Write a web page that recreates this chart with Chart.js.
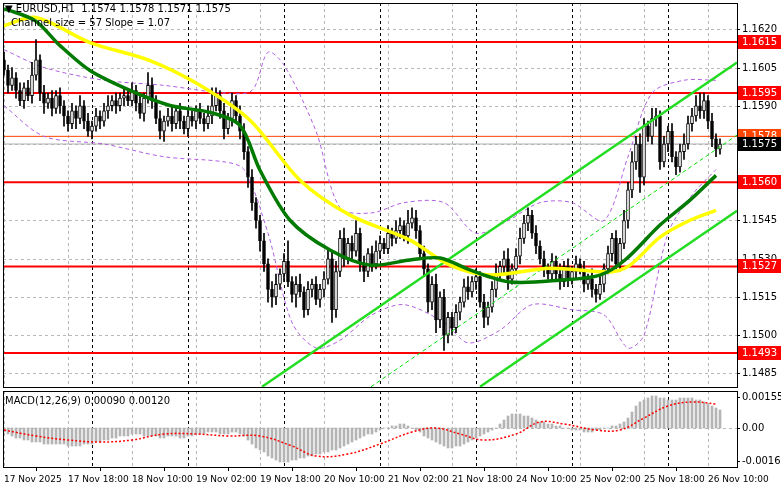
<!DOCTYPE html>
<html>
<head>
<meta charset="utf-8">
<script src="https://cdn.jsdelivr.net/npm/chart.js@4.4.1/dist/chart.umd.min.js"></script>
<style>
  body { margin: 0; background: #fff; width: 781px; height: 489px; overflow: hidden; font-family: "DejaVu Sans", sans-serif; }
  #mainBox { position: absolute; left: 0; top: 0; width: 781px; height: 389px; }
  #macdBox { position: absolute; left: 0; top: 389px; width: 781px; height: 100px; }
  .txt { position: absolute; font-size: 10px; color: #000; white-space: nowrap; }
</style>
</head>
<body>
<div id="mainBox"><canvas id="mainChart"></canvas></div>
<div id="macdBox"><canvas id="macdChart"></canvas></div>
<div class="txt" style="left:5px;top:3px;">&#9660; EURUSD,H1&nbsp; 1.1574 1.1578 1.1571 1.1575</div>
<div class="txt" style="left:11px;top:17px;">Channel size = 57 Slope = 1.07</div>
<div class="txt" style="left:5px;top:395px;">MACD(12,26,9) 0.00090 0.00120</div>
<script>
// Time labels every 16 H1 bars, starting 17 Nov 02:00
const timeLabels = ['17 Nov 2025', '17 Nov 18:00', '18 Nov 10:00', '19 Nov 02:00', '19 Nov 18:00', '20 Nov 10:00',
  '21 Nov 02:00', '21 Nov 18:00', '24 Nov 10:00', '25 Nov 02:00', '25 Nov 18:00', '26 Nov 10:00'];
const daySeparators = [22, 46, 70, 94, 118, 142, 166];
const priceTicks = [1.1485, 1.1500, 1.1515, 1.1530, 1.1545, 1.1560, 1.1575, 1.1590, 1.1605, 1.1620];
const macdTicks = [-0.00166, 0, 0.00155];

const firstOpen = 1.1608;
const closes = [
  1.1604,1.1598,1.1601,1.1596,1.1592,1.1597,1.1594,1.1602,1.1608,1.1595,1.1591,1.1593,1.1589,1.1594,1.1590,1.1586,
  1.1583,1.1588,1.1585,1.1590,1.1584,1.1580,1.1582,1.1586,1.1584,1.1588,1.1590,1.1592,1.1590,1.1593,1.1594,1.1592,
  1.1596,1.1591,1.1587,1.1593,1.1598,1.1592,1.1585,1.1580,1.1584,1.1586,1.1583,1.1588,1.1584,1.1581,1.1586,1.1584,
  1.1588,1.1585,1.1583,1.1586,1.1590,1.1594,1.1588,1.1581,1.1585,1.1592,1.1586,1.1580,1.1572,1.1562,1.1552,1.1545,
  1.1537,1.1528,1.1518,1.1515,1.1520,1.1524,1.1529,1.1521,1.1516,1.1520,1.1517,1.1510,1.1518,1.1520,1.1514,1.1518,
  1.1522,1.1530,1.1510,1.1525,1.1538,1.1530,1.1536,1.1533,1.1540,1.1528,1.1525,1.1532,1.1528,1.1533,1.1536,1.1534,
  1.1540,1.1538,1.1541,1.1543,1.1539,1.1544,1.1546,1.1541,1.1532,1.1526,1.1513,1.1520,1.1506,1.1515,1.1500,1.1507,
  1.1503,1.1509,1.1513,1.1519,1.1517,1.1521,1.1523,1.1513,1.1507,1.1511,1.1518,1.1524,1.1527,1.1530,1.1522,1.1526,
  1.1531,1.1538,1.1544,1.1547,1.1540,1.1535,1.1530,1.1526,1.1524,1.1529,1.1524,1.1521,1.1527,1.1522,1.1525,1.1528,
  1.1526,1.1520,1.1522,1.1518,1.1516,1.1520,1.1526,1.1532,1.1538,1.1528,1.1536,1.1545,1.1557,1.1568,1.1575,1.1562,
  1.1582,1.1578,1.1585,1.1586,1.1568,1.1575,1.1580,1.1570,1.1566,1.1572,1.1575,1.1583,1.1586,1.1590,1.1588,1.1592,
  1.1584,1.1577,1.1573,1.1575
];
// wick lengths above / below the body, in pips
const wickUp = [
  3,2,4,2,3,2,3,5,8,2,3,2,3,2,3,2, 2,3,2,4,2,3,2,3,2,3,4,2,3,2,3,2,
  3,2,4,2,5,3,2,3,2,3,4,2,3,2,3,2, 2,3,2,4,7,3,2,3,2,3,2,4,3,2,3,2,
  2,3,2,3,4,2,3,8,2,3,4,2,3,2,3,2, 3,4,3,4,3,4,2,3,5,2,3,2,3,4,3,2,
  3,2,4,3,2,5,4,3,2,3,2,3,4,2,3,2, 2,3,2,3,4,2,3,2,3,2,3,4,2,3,4,2,
  3,4,3,3,2,3,2,3,2,3,2,4,2,3,2,3, 2,3,2,4,2,3,2,3,2,3,2,4,3,4,3,4,
  3,2,4,3,2,3,2,3,2,3,4,3,3,4,5,3, 2,3,2,2
];
const wickDn = [
  2,3,2,3,2,3,2,3,2,3,4,2,3,2,3,4, 3,2,4,2,3,2,3,2,3,2,3,2,3,2,3,2,
  2,3,2,3,2,3,2,3,4,2,3,2,3,2,3,2, 3,2,3,2,3,2,3,4,2,3,2,3,3,4,3,3,
  4,3,5,4,3,2,3,2,3,5,2,3,2,3,2,3, 3,2,5,3,2,3,2,3,2,3,4,2,3,2,3,2,
  2,3,2,3,2,3,2,3,2,3,4,3,5,3,6,3, 3,2,3,2,3,2,3,2,4,3,2,3,2,3,4,2,
  2,3,2,3,2,3,2,3,2,3,2,3,2,3,2,3, 2,3,2,3,3,2,3,2,3,2,3,2,3,3,3,6,
  3,2,3,3,3,2,3,2,3,2,3,2,3,2,3,3, 3,3,3,2
];

// moving averages and envelope, read at selected bars
const maSlow = [[0,1.16214],[8,1.16246],[21.5,1.16148],[36.5,1.16077],[49,1.15980],[61.5,1.15843],[74,1.15608],[86.5,1.15471],
  [101.5,1.15373],[111.5,1.15275],[121.5,1.15236],[136.5,1.15263],[151.5,1.15248],[156.5,1.15275],[164,1.15385],[171.5,1.15451],[178,1.15490]];
const maFast = [[0,1.16281],[7.75,1.16234],[14,1.16136],[21.5,1.16038],[31.5,1.15960],[41.5,1.15901],[51.5,1.15874],[59,1.15823],
  [64,1.15647],[71.5,1.15451],[81.5,1.15334],[91.5,1.15275],[101.5,1.15295],[109,1.15303],[116.5,1.15256],[126.5,1.15209],
  [139,1.15216],[149,1.15236],[155.25,1.15295],[164,1.15432],[171.5,1.15530],[178,1.15627]];
const bandUpper = [[0,1.1612],[10,1.1605],[25,1.1600],[40,1.1598],[55,1.1595],[62,1.1596],[66,1.1611],[70,1.1606],[78,1.1580],
  [84,1.1550],[92,1.1548],[100,1.1552],[110,1.1552],[118,1.1540],[126,1.1545],[134,1.1552],[142,1.1552],[150,1.1545],
  [156,1.1570],[162,1.1595],[170,1.1600],[178,1.1600]];
const bandLower = [[0,1.1590],[10,1.1578],[25,1.1575],[40,1.1570],[55,1.1568],[60,1.1565],[66,1.1540],[72,1.1505],[78,1.1495],
  [84,1.1498],[92,1.1508],[100,1.1512],[110,1.1505],[116,1.1497],[124,1.1502],[132,1.1512],[142,1.1510],[150,1.1508],
  [156,1.1495],[160,1.1500],[166,1.1540],[172,1.1555],[178,1.1565]];
const channelUpper = [[64.5,1.14798],[183.25,1.16070]];
const channelLower = [[119,1.14798],[183.25,1.15488]];
const channelMid = [[91.75,1.14798],[183.25,1.15785]];

const levels = [1.1615, 1.1595, 1.1560, 1.1527, 1.1493];
const askLevel = 1.1578;
const bidLevel = 1.1575;

// MACD, in units of 0.0001
const macdHist = [
  -2,-3,-4,-5,-5,-6,-6,-7,-7,-7,-8,-8,-8,-8,-8,-8, -9,-9,-9,-9,-8,-8,-8,-7,-7,-6,-6,-5,-5,-4,-4,-4,
  -3,-3,-3,-4,-4,-4,-4,-5,-5,-4,-4,-4,-5,-5,-4,-4, -3,-3,-3,-2,-2,-2,-3,-3,-3,-2,-2,-3,-4,-6,-8,-10,
  -11,-12,-14,-15,-16,-17,-17,-17,-16,-16,-15,-15,-14,-14,-13,-13, -12,-12,-11,-11,-10,-9,-8,-7,-6,-5,-4,-3,-3,-2,-1,0,
  0,1,1,2,2,1,0,-1,-2,-4,-5,-6,-7,-8,-9,-10, -10,-9,-9,-8,-7,-6,-5,-4,-3,-2,-1,0,2,4,6,7,
  7,7,6,6,5,4,3,3,2,2,1,1,0,0,-1,-1, -1,-2,-2,-2,-1,-1,0,0,1,1,2,3,5,8,11,13,
  14,15,16,16,15,15,14,14,14,15,15,15,15,14,14,13,12,11,10,9
];
const macdSignal = [[0,-1],[8,-4],[16,-6],[24,-7],[32,-6],[40,-3],[48,-3],[56,-4],[64,-4],[72,-9],[78,-14],[86,-13],
  [94,-8],[102,-2],[108,0],[114,-3],[120,-6],[128,-3],[134,3],[140,2],[148,-1],[154,-1],[160,5],[166,11],[172,13],[178,12]];

const X_MIN = -0.25, X_MAX = 183.25;
const FONT = '10px "DejaVu Sans"';
const pts = arr => arr.map(p => ({ x: p[0], y: p[1] }));
const span = v => [{ x: X_MIN, y: v }, { x: X_MAX, y: v }];

const opens = closes.map((c, i) => i === 0 ? firstOpen : closes[i - 1]);
const bodies = closes.map((c, i) => ({ x: i, y: [opens[i], c] }));
const wicks = closes.map((c, i) => ({
  x: i, y: [Math.min(opens[i], c) - wickDn[i] / 10000, Math.max(opens[i], c) + wickUp[i] / 10000]
}));
const bodyFill = closes.map((c, i) => c >= opens[i] ? '#ffffff' : '#000000');

function lineDs(data, color, width, dash, order) {
  return { type: 'line', data: data, borderColor: color, borderWidth: width, borderDash: dash || [],
    pointRadius: 0, tension: 0.3, fill: false, order: order };
}

// dashed grid, frame, day separators and right-hand labels
function paneDecor(hTicks, hGrid, fmt) {
  return {
    id: 'decor',
    beforeDatasetsDraw(chart) {
      const a = chart.chartArea, ctx = chart.ctx, sx = chart.scales.x, sy = chart.scales.y;
      ctx.save();
      ctx.strokeStyle = '#b8b8b8'; ctx.lineWidth = 1; ctx.setLineDash([3, 3]);
      timeLabels.forEach((t, i) => {
        const x = Math.round(sx.getPixelForValue(i * 16)) + 0.5;
        if (x <= a.left + 1) return;
        ctx.beginPath(); ctx.moveTo(x, a.top); ctx.lineTo(x, a.bottom); ctx.stroke();
      });
      hGrid.forEach(v => {
        const y = Math.round(sy.getPixelForValue(v)) + 0.5;
        ctx.beginPath(); ctx.moveTo(a.left, y); ctx.lineTo(a.right, y); ctx.stroke();
      });
      ctx.strokeStyle = '#000';
      daySeparators.forEach(b => {
        const x = Math.round(sx.getPixelForValue(b)) + 0.5;
        ctx.beginPath(); ctx.moveTo(x, a.top); ctx.lineTo(x, a.bottom); ctx.stroke();
      });
      ctx.restore();
    },
    afterDraw(chart) {
      const a = chart.chartArea, ctx = chart.ctx, sy = chart.scales.y;
      ctx.save();
      ctx.strokeStyle = '#000'; ctx.lineWidth = 1;
      ctx.strokeRect(a.left + 0.5, a.top + 0.5, a.right - a.left, a.bottom - a.top);
      ctx.font = FONT; ctx.fillStyle = '#000'; ctx.textBaseline = 'middle';
      hTicks.forEach(v => {
        const y = Math.round(sy.getPixelForValue(v)) + 0.5;
        ctx.beginPath(); ctx.moveTo(a.right, y); ctx.lineTo(a.right + 3, y); ctx.stroke();
        ctx.fillText(fmt(v), a.right + 5, y);
      });
      ctx.restore();
    }
  };
}

const priceBoxes = {
  id: 'priceBoxes',
  afterDraw(chart) {
    const ctx = chart.ctx, y = chart.scales.y, left = chart.chartArea.right + 1;
    ctx.save();
    ctx.font = FONT;
    ctx.textBaseline = 'middle';
    const box = (v, bg) => {
      const py = Math.round(y.getPixelForValue(v));
      ctx.fillStyle = bg; ctx.fillRect(left, py - 7, 44, 14);
      ctx.fillStyle = '#fff'; ctx.fillText(v.toFixed(4), left + 4, py);
    };
    levels.forEach(v => box(v, '#ff0000'));
    box(askLevel, '#ff4500');
    box(bidLevel, '#000000');
    ctx.restore();
  }
};

const hiddenX = {
  type: 'linear', min: X_MIN, max: X_MAX, offset: false,
  afterFit: s => { s.height = 0; }, ticks: { display: false }, grid: { display: false }, border: { display: false }
};
const hiddenY = (min, max) => ({
  position: 'right', min: min, max: max,
  afterFit: s => { s.width = 44; }, ticks: { display: false }, grid: { display: false }, border: { display: false }
});

new Chart(document.getElementById('mainChart'), {
  type: 'bar',
  data: {
    datasets: [
      ...levels.map(v => lineDs(span(v), '#ff0000', 2, [], 9)),
      lineDs(span(askLevel), '#ff4500', 1, [], 9),
      lineDs(span(bidLevel), '#b0b0b0', 1, [], 9),
      lineDs(pts(bandUpper), '#b060e0', 1, [4, 3], 8),
      lineDs(pts(bandLower), '#b060e0', 1, [4, 3], 8),
      { type: 'bar', data: wicks, backgroundColor: '#000', barThickness: 1, grouped: false, order: 6 },
      { type: 'bar', data: bodies, backgroundColor: bodyFill, borderColor: '#000', borderWidth: 1,
        borderSkipped: false, barThickness: 3, grouped: false, order: 5 },
      lineDs(pts(channelMid), '#00e000', 1, [4, 3], 4),
      lineDs(pts(channelUpper), '#22dd22', 2.5, [], 3),
      lineDs(pts(channelLower), '#22dd22', 2.5, [], 3),
      lineDs(pts(maSlow), '#ffff00', 3.5, [], 2),
      lineDs(pts(maFast), '#007a00', 3.5, [], 1)
    ]
  },
  options: {
    responsive: true, maintainAspectRatio: false, animation: false,
    layout: { padding: { left: 3, top: 3, right: 0, bottom: 2 } },
    plugins: { legend: { display: false }, tooltip: { enabled: false } },
    scales: { x: hiddenX, y: hiddenY(1.14797, 1.16303) }
  },
  plugins: [paneDecor(priceTicks, priceTicks, v => v.toFixed(4)), priceBoxes]
});

new Chart(document.getElementById('macdChart'), {
  type: 'bar',
  data: {
    datasets: [
      { type: 'bar', data: macdHist.map((v, i) => ({ x: i, y: v / 10000 })), backgroundColor: '#b4b4b4',
        barThickness: 2, order: 2 },
      { type: 'line', data: macdSignal.map(p => ({ x: p[0], y: p[1] / 10000 })), borderColor: '#ff0000',
        borderWidth: 1.5, borderDash: [2, 2], pointRadius: 0, tension: 0.4, order: 1 }
    ]
  },
  options: {
    responsive: true, maintainAspectRatio: false, animation: false,
    layout: { padding: { left: 3, top: 2, right: 0, bottom: 0 } },
    plugins: { legend: { display: false }, tooltip: { enabled: false } },
    scales: {
      x: {
        type: 'linear', min: X_MIN, max: X_MAX, offset: false,
        afterBuildTicks: s => { s.ticks = timeLabels.map((t, i) => ({ value: i * 16 })); },
        afterFit: s => { s.height = 22; },
        ticks: { color: '#000', font: { family: 'DejaVu Sans', size: 9 }, align: 'start', maxRotation: 0,
          autoSkip: false, padding: 3, callback: v => timeLabels[v / 16] },
        grid: { drawOnChartArea: false, drawTicks: true, tickLength: 4, tickColor: '#000' },
        border: { display: false }
      },
      y: hiddenY(-0.00195, 0.00185)
    }
  },
  plugins: [paneDecor(macdTicks, [0], v => v === 0 ? '0.00' : v.toFixed(5))]
});
</script>
</body>
</html>
